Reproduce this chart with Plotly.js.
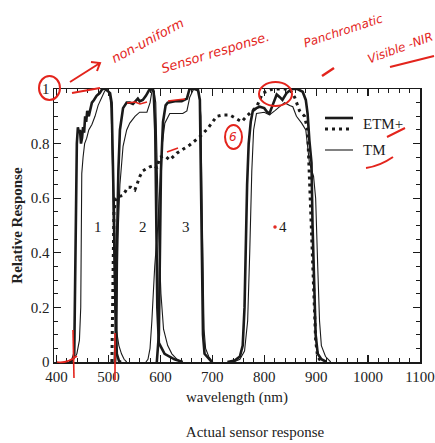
<!DOCTYPE html>
<html>
<head>
<meta charset="utf-8">
<script src="https://cdn.plot.ly/plotly-3.0.1.min.js"></script>
<style>html,body{margin:0;padding:0;background:#fff;}#chart{width:435px;height:443px;}</style>
</head>
<body>
<div id="chart"></div>
<script>
// ---- data (wavelength nm, relative response) ----
const etm1_x = [424,430,434,436,437.5,439,441,443,445,447,449,451,453,455,457,459,462,465,468,472,477,483,488,494,499,503,506,508,510,512,514,516,520,524];
const etm1_y = [0,0.005,0.03,0.3,0.6,0.8,0.86,0.84,0.85,0.8,0.82,0.86,0.84,0.9,0.88,0.92,0.9,0.93,0.95,0.96,0.975,0.985,1,1,0.99,0.985,0.95,0.8,0.6,0.4,0.15,0.03,0.005,0];
const tm1_x = [425,433,439,444,446.5,447.5,448.5,451,454,458,462,468,474,480,486,492,496,502,505,508,510,512,515,520,525,530,535];
const tm1_y = [0,0.01,0.03,0.08,0.2,0.5,0.69,0.75,0.8,0.82,0.85,0.87,0.9,0.94,0.965,0.99,1,0.985,0.93,0.7,0.4,0.2,0.12,0.06,0.03,0.01,0];
const etm2_x = [512,514,516,519,522,528,535,541,547,552,556.5,560,566,572,578,583.5,587,590,592,594,597,608,627,643];
const etm2_y = [0,0.1,0.4,0.7,0.85,0.93,0.95,0.95,0.945,0.955,0.965,0.955,0.96,0.975,0.995,1,0.99,0.85,0.5,0.2,0.07,0.03,0.01,0];
const tm2_x = [514,516,518,522,528,535,541,551,560,574,580,583.5,587,591,594,597,601,606,614,622,632,639];
const tm2_y = [0,0.1,0.45,0.65,0.79,0.85,0.875,0.9,0.915,0.915,0.95,0.99,1,0.95,0.7,0.45,0.25,0.12,0.06,0.03,0.01,0];
const etm3_x = [593,597,599,601,605,610,614,628,641,651,656,672,676,678,680,682,685,695,699];
const etm3_y = [0,0.1,0.4,0.7,0.88,0.94,0.95,0.955,0.955,0.965,1,1,0.96,0.7,0.3,0.1,0.03,0.01,0];
const tm3_x = [572,576,580,583.5,589,595,599,603,608.5,618,643,651,656.5,664,674,678,680,682,684,687,693,701];
const tm3_y = [0,0.01,0.05,0.15,0.35,0.5,0.65,0.79,0.875,0.91,0.91,0.92,0.97,1,0.99,0.9,0.6,0.3,0.12,0.05,0.02,0];
const etm4_x = [729,743,753,758.5,762,764,767,770,774,778,785,791,800,806,810,816,824,830,835,843,853,864,874,880,883.5,887,891,893,897,899,903,910,920];
const etm4_y = [0,0.005,0.02,0.06,0.2,0.4,0.65,0.8,0.88,0.92,0.93,0.935,0.93,0.915,0.91,0.94,0.98,0.97,0.96,0.985,1,1,0.99,0.96,0.91,0.81,0.73,0.5,0.25,0.1,0.03,0.01,0];
const tm4_x = [741,753,762,768,772,776,779.5,785,800,810,820,830,839,849,855,862,872,880,883.5,887,895,899,903,906.5,910,918,928];
const tm4_y = [0,0.01,0.04,0.15,0.4,0.7,0.85,0.91,0.915,0.905,0.92,0.935,0.95,0.94,0.935,0.9,0.875,0.85,0.79,0.73,0.68,0.6,0.35,0.15,0.06,0.02,0];
const pan_x = [506.5,508.5,510.4,514,518,527.7,537.3,543,550.8,560.4,566,579.6,589,593,598.8,608.5,618,631.5,656.5,675.8,691,708.5,720,733.5,747,756.5,766,777.7,785.4,797,816,848.8,858.5,868,877.7,883.5,887,891,895,899,902.7,910];
const pan_y = [0,0.3,0.55,0.6,0.605,0.61,0.64,0.64,0.63,0.68,0.70,0.715,0.72,0.71,0.75,0.755,0.74,0.765,0.795,0.825,0.855,0.90,0.905,0.905,0.89,0.88,0.90,0.92,0.935,0.985,1,1,0.97,0.92,0.90,0.85,0.67,0.48,0.25,0.08,0.02,0];

const bandLabels = ['1','2','3','4'];
const bandLabelX = [480,566,649,837];
const bandLabelY = [0.495,0.495,0.495,0.495];

const xTickVals = [400,500,600,700,800,900,1000,1100];
const xTickText = ['400','500','600','700','800','900','1000','1100'];
const yTickVals = [0,0.2,0.4,0.6,0.8,1];
const yTickText = ['0','0.2','0.4','0.6','0.8','1'];

// ---- styling ----
const INK = '#1a1a1a';
const RED = '#e3241c';
const SERIF = 'Liberation Serif, Times New Roman, serif';
const HAND = 'DejaVu Sans, sans-serif';

const thick = {color: INK, width: 2.6};
const thin = {color: INK, width: 1.1};

function tr(x, y, line) {
  return {x: x, y: y, type: 'scatter', mode: 'lines', line: line, showlegend: false, hoverinfo: 'skip', cliponaxis: false};
}
const data = [
  tr(tm1_x, tm1_y, thin), tr(tm2_x, tm2_y, thin), tr(tm3_x, tm3_y, thin), tr(tm4_x, tm4_y, thin),
  tr(etm1_x, etm1_y, thick), tr(etm2_x, etm2_y, thick), tr(etm3_x, etm3_y, thick), tr(etm4_x, etm4_y, thick),
  tr(pan_x, pan_y, {color: INK, width: 3, dash: '3px,4px'})
];

// plot box in pixels
const L = 54, R = 420, T = 89, B = 362;
const W = 435, H = 443;
function px(x) { return (x - L) / (R - L); }
function py(y) { return (B - y) / (B - T); }

const annotations = [];
bandLabels.forEach((t, i) => annotations.push({x: bandLabelX[i], y: bandLabelY[i], xref: 'x', yref: 'y', xanchor: 'center', yanchor: 'middle', text: t, showarrow: false, font: {family: SERIF, size: 15, color: INK}}));

// legend (drawn by hand: two line styles share the ETM+ label)
const shapes = [
  {type: 'line', xref: 'paper', yref: 'paper', x0: px(325), x1: px(353), y0: py(118), y1: py(118), line: {color: INK, width: 2.6}},
  {type: 'line', xref: 'paper', yref: 'paper', x0: px(325), x1: px(353), y0: py(129), y1: py(129), line: {color: INK, width: 3, dash: '3px,4px'}},
  {type: 'line', xref: 'paper', yref: 'paper', x0: px(325), x1: px(353), y0: py(150), y1: py(150), line: {color: INK, width: 1.1}}
];
annotations.push({x: px(361), y: py(124), xref: 'paper', yref: 'paper', xanchor: 'left', yanchor: 'middle', text: 'ETM+', showarrow: false, font: {family: SERIF, size: 15, color: INK}});
annotations.push({x: px(361), y: py(150), xref: 'paper', yref: 'paper', xanchor: 'left', yanchor: 'middle', text: 'TM', showarrow: false, font: {family: SERIF, size: 15, color: INK}});

// handwritten red notes
function note(text, cx, cy, ang, size) {
  annotations.push({x: px(cx), y: py(cy), xref: 'paper', yref: 'paper', xanchor: 'center', yanchor: 'middle', text: text, textangle: ang, showarrow: false,
    font: {family: HAND, size: size || 13, color: RED, style: 'italic'}});
}
note('non-uniform', 148, 41, -28, 13);
note('Sensor response.', 215, 52, -17, 13);
note('Panchromatic', 343, 31, -18, 12);
note('Visible -NIR', 400, 48, -20, 12);
note('6', 233, 137, 0, 12);

function red(path, w) { shapes.push({type: 'path', xref: 'paper', yref: 'paper', path: path, line: {color: RED, width: w || 2}}); }
function P(x, y) { return px(x).toFixed(4) + ',' + py(y).toFixed(4); }
function circ(x0, y0, x1, y1, w) { shapes.push({type: 'circle', xref: 'paper', yref: 'paper', x0: px(x0), x1: px(x1), y0: py(y1), y1: py(y0), line: {color: RED, width: w || 2}}); }

circ(39, 76, 60, 100);           // around the "1"
circ(225, 125, 242, 149);        // around the "6"
circ(259, 82, 292, 106);         // around band 4 peak
red('M ' + P(70,82) + ' L ' + P(100,63) + ' M ' + P(91,62) + ' L ' + P(100,63) + ' L ' + P(97,71));
red('M ' + P(72,93) + ' L ' + P(100,88));
red('M ' + P(322,76) + ' L ' + P(334,68), 2.5);
red('M ' + P(387,137) + ' L ' + P(405,128));
red('M ' + P(366,168) + ' Q ' + P(380,166) + ' ' + P(393,157));
red('M ' + P(390,67) + ' Q ' + P(410,62) + ' ' + P(434,56));
red('M ' + P(127,103) + ' L ' + P(135,102) + ' L ' + P(140,104) + ' L ' + P(147,102), 1.6);
red('M ' + P(168,101) + ' L ' + P(176,100) + ' L ' + P(185,99), 1.6);
red('M ' + P(167,152) + ' L ' + P(178,148), 1.6);
red('M ' + P(73,330) + ' L ' + P(74,378), 1.6);
red('M ' + P(57,362) + ' Q ' + P(66,364) + ' ' + P(77,356), 1.6);
red('M ' + P(115,333) + ' L ' + P(115,380), 1.6);
circ(274, 226, 276, 228, 1.5);

const axisCommon = {
  showline: true, linecolor: INK, linewidth: 1.5, mirror: 'allticks',
  ticks: 'inside', tickcolor: INK, tickwidth: 1.2, ticklen: 7,
  showgrid: false, zeroline: false,
  tickfont: {family: SERIF, size: 15, color: '#222'}
};

const layout = {
  width: W, height: H,
  margin: {l: L, r: W - R, t: T, b: H - B},
  paper_bgcolor: '#fff', plot_bgcolor: '#fff',
  showlegend: false,
  title: {text: 'Actual sensor response', x: 255 / W, xanchor: 'center', xref: 'container', y: 1 - 432 / H, yref: 'container', yanchor: 'middle', font: {family: SERIF, size: 15, color: '#222'}},
  xaxis: Object.assign({}, axisCommon, {
    range: [395, 1100], tickvals: xTickVals, ticktext: xTickText,
    minor: {dtick: 20, tick0: 400, ticks: 'inside', ticklen: 4, tickcolor: INK, tickwidth: 1},
    title: {text: 'wavelength (nm)', standoff: 8, font: {family: SERIF, size: 15, color: '#222'}}
  }),
  yaxis: Object.assign({}, axisCommon, {
    range: [0, 1], tickvals: yTickVals, ticktext: yTickText,
    minor: {dtick: 0.05, tick0: 0, ticks: 'inside', ticklen: 4, tickcolor: INK, tickwidth: 1},
    title: {text: '<b>Relative Response</b>', standoff: 4, font: {family: SERIF, size: 15, color: '#222'}}
  }),
  shapes: shapes,
  annotations: annotations
};

Plotly.newPlot('chart', data, layout, {staticPlot: true, displayModeBar: false});
</script>
</body>
</html>
